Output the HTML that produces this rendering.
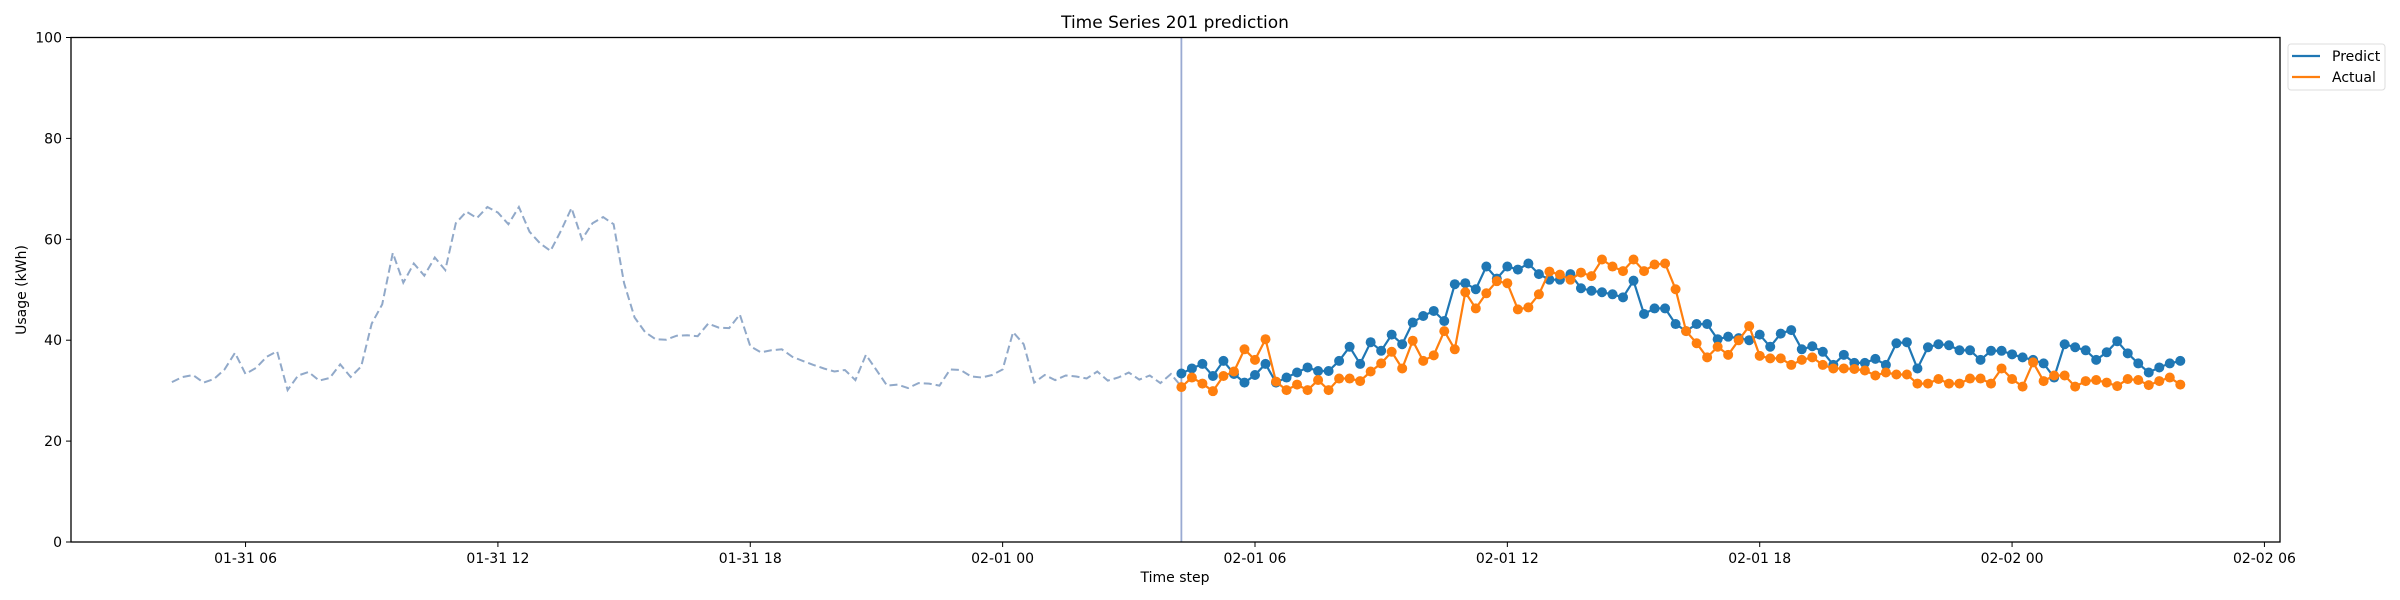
<!DOCTYPE html>
<html><head><meta charset="utf-8"><style>
body{margin:0;background:#fff}
svg{display:block;font-family:"DejaVu Sans","Liberation Sans",sans-serif}
</style></head><body>
<svg id="chart" width="2400" height="600" viewBox="0 0 2400 600" xmlns="http://www.w3.org/2000/svg">
<rect width="2400" height="600" fill="#fff"/>
<text x="1175" y="28" font-size="17" text-anchor="middle">Time Series 201 prediction</text>
<text transform="translate(26,290) rotate(-90)" font-size="14" text-anchor="middle">Usage (kWh)</text>
<text x="1175" y="582" font-size="14" text-anchor="middle">Time step</text>
<g id="plot"></g>
<rect x="71" y="37.5" width="2209" height="504.5" fill="none" stroke="#000" stroke-width="1.3"/>
<g>
<rect x="2288" y="44" width="97" height="46" rx="3" fill="#fff" stroke="#ddd"/>
<line x1="2292" y1="56" x2="2320" y2="56" stroke="#1f77b4" stroke-width="2.2"/>
<text x="2332" y="61" font-size="14">Predict</text>
<line x1="2292" y1="77" x2="2320" y2="77" stroke="#ff7f0e" stroke-width="2.2"/>
<text x="2332" y="82" font-size="14">Actual</text>
</g>
</svg>
<script>
const historyValues=[31.7,32.7,33.1,31.6,32.3,34.2,37.5,33.3,34.5,36.7,37.8,30.1,33,33.7,32,32.5,35.2,32.7,34.8,43.3,47.1,57.3,51.4,55.2,52.8,56.4,53.9,63.2,65.5,64.2,66.4,65.3,63,66.4,61.5,59.2,57.7,61.7,66.2,60,63.2,64.4,63,51.3,44.5,41.6,40.2,40.1,40.9,41,40.8,43.3,42.5,42.4,45.1,38.8,37.6,38,38.2,36.7,35.9,35.1,34.4,33.8,34.1,32.1,37.1,34.1,31,31.2,30.5,31.5,31.4,31,34.2,34.1,32.8,32.6,33.1,34.2,41.6,39.2,31.6,33.1,32.1,33,32.8,32.4,33.8,32,32.6,33.6,32.2,33,31.5,33.3,30.8];
const predictValues=[33.4,34.4,35.3,32.9,35.9,33.3,31.6,33.1,35.3,31.6,32.6,33.6,34.6,33.9,33.9,35.9,38.7,35.3,39.6,37.9,41.1,39.2,43.5,44.8,45.8,43.8,51.1,51.3,50.1,54.6,52.2,54.6,54.0,
55.2,53.1,52.0,52.0,53.1,50.3,49.8,49.5,49.1,48.5,51.8,45.2,46.3,46.3,43.2,41.8,43.2,43.2,40.2,40.7,40.4,40.0,41.1,38.7,41.3,42.0,38.2,38.8,37.7,35.1,37.1,
35.5,35.5,36.3,35.1,39.4,39.6,34.4,38.6,39.2,39.0,38.0,38.0,36.1,37.9,37.9,37.2,36.6,36.1,35.4,32.6,39.2,38.6,38.0,36.1,37.6,39.8,37.4,35.4,33.6,34.6,35.4,35.9];
const actualValues=[30.7,32.6,31.4,29.9,32.9,33.8,38.2,36.1,40.2,31.8,30.1,31.2,30.1,32.1,30.1,32.4,32.4,31.9,33.8,35.4,37.7,34.4,39.9,35.9,37.0,41.8,38.2,49.5,46.3,49.3,51.7,51.3,46.1,
46.5,49.1,53.6,53.0,52.0,53.4,52.7,56.0,54.6,53.7,56.0,53.7,55.0,55.2,50.1,41.8,39.4,36.6,38.7,37.1,40.0,42.8,36.9,36.4,36.4,35.1,36.1,36.6,35.1,34.4,34.4,
34.3,34.0,33.0,33.6,33.2,33.2,31.4,31.4,32.3,31.4,31.4,32.4,32.4,31.4,34.4,32.3,30.8,35.6,31.9,33.0,33.0,30.8,31.9,32.1,31.6,30.9,32.3,32.1,31.1,31.9,32.6,31.2];
const yTicks=[0,20,40,60,80,100];
const xTickHours=[6,12,18,24,30,36,42,48,54];
const xTickLabels=["01-31 06","01-31 12","01-31 18","02-01 00","02-01 06","02-01 12","02-01 18","02-02 00","02-02 06"];
const historyStartHour=4.25, stepHours=0.25;
const forecastStartHour=historyStartHour+(historyValues.length-1)*stepHours;

const NS="http://www.w3.org/2000/svg";
const X=t=>71+(t-1.85)*42.06;
const Y=v=>542-v*5.045;
const g=document.getElementById('plot');
function mk(tag,attrs){const e=document.createElementNS(NS,tag);for(const k in attrs)e.setAttribute(k,attrs[k]);g.appendChild(e);return e;}

yTicks.forEach(v=>{
  const t=mk('line',{x1:66,x2:71,y1:Y(v),y2:Y(v),stroke:'#000','stroke-width':1});
  
  
  const l=mk('text',{x:62,y:Y(v)+5,'font-size':14,'text-anchor':'end'});
  l.textContent=v;
  
  
});
xTickHours.forEach((h,i)=>{
  const t=mk('line',{x1:X(h),x2:X(h),y1:542,y2:547,stroke:'#000','stroke-width':1});
  
  
  const l=mk('text',{x:X(h),y:563,'font-size':14,'text-anchor':'middle'});
  l.textContent=xTickLabels[i];
  
  
});

const hp=historyValues.map((v,i)=>X(historyStartHour+i*stepHours).toFixed(1)+','+Y(v).toFixed(1)).join(' ');
const hl=mk('polyline',{points:hp,fill:'none',stroke:'#91a9c9','stroke-width':2,'stroke-dasharray':'8,4'});



const vl=mk('line',{x1:X(forecastStartHour),x2:X(forecastStartHour),y1:37.5,y2:542,stroke:'#9aaad2','stroke-width':1.8});



function series(vals,color,name){
  const pts=vals.map((v,i)=>X(forecastStartHour+i*stepHours).toFixed(1)+','+Y(v).toFixed(1)).join(' ');
  const pl=mk('polyline',{points:pts,fill:'none',stroke:color,'stroke-width':2.2});
  
  
  vals.forEach((v,i)=>{
    const c=mk('circle',{cx:X(forecastStartHour+i*stepHours),cy:Y(v),r:5,fill:color});
    
    
  });
}
series(predictValues,'#1f77b4','predict');
series(actualValues,'#ff7f0e','actual');
</script>
</body></html>
